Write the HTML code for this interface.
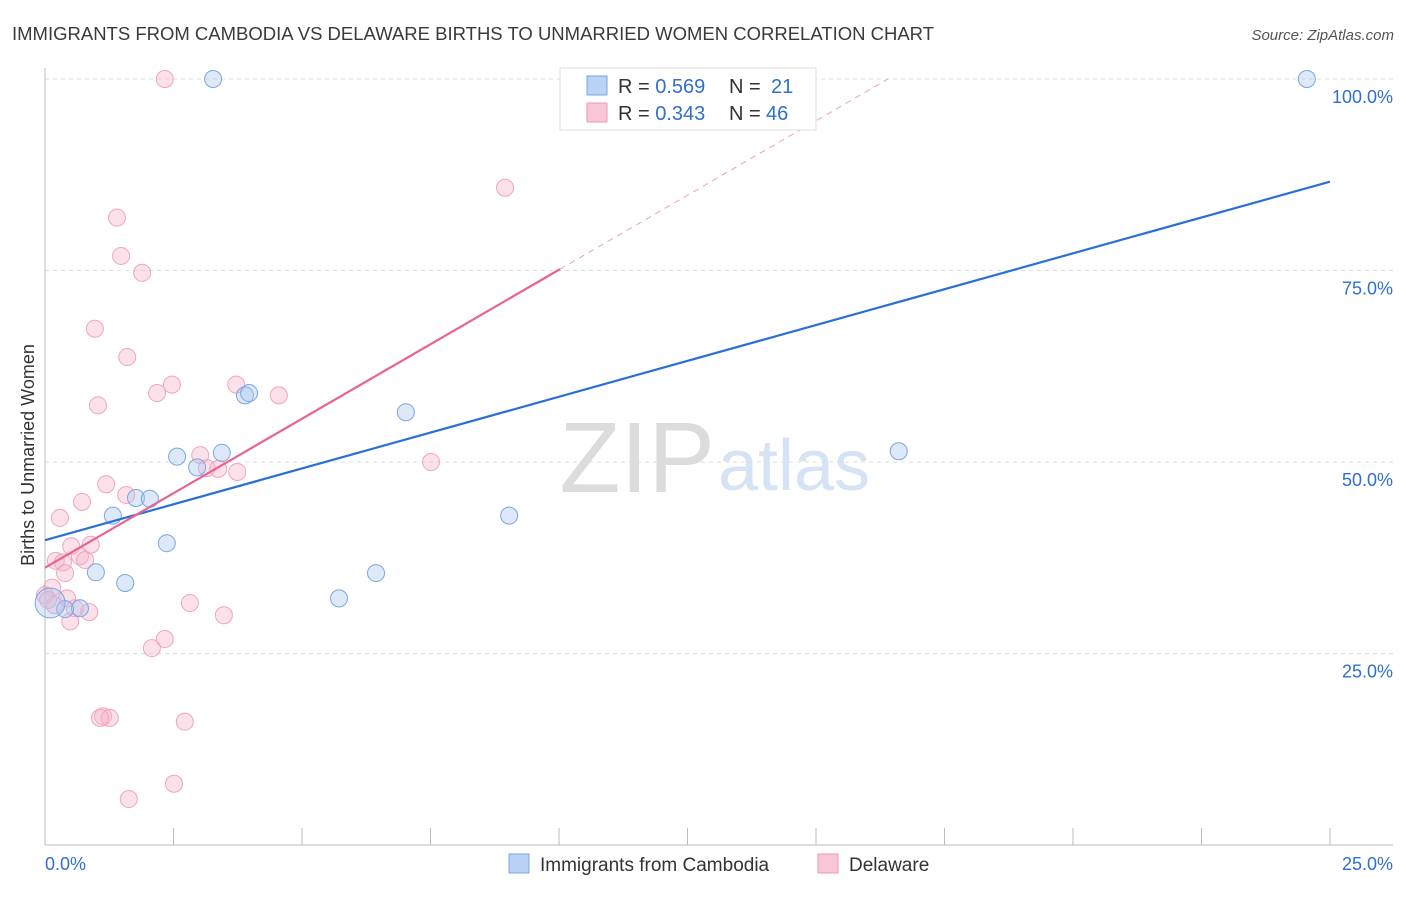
<!DOCTYPE html>
<html><head><meta charset="utf-8"><style>
body{margin:0;background:#fff;font-family:"Liberation Sans",sans-serif}
svg text{font-family:"Liberation Sans",sans-serif}
</style></head><body>
<svg id="c" width="1406" height="892">
<text x="12" y="40" font-size="18.5" fill="#3a3a3a">IMMIGRANTS FROM CAMBODIA VS DELAWARE BIRTHS TO UNMARRIED WOMEN CORRELATION CHART</text>
<text x="1394" y="40" font-size="15" fill="#555" font-style="italic" text-anchor="end">Source: ZipAtlas.com</text>
<text x="-455" y="34" font-size="18" fill="#333" text-anchor="middle" transform="rotate(-90)">Births to Unmarried Women</text>
<text x="715" y="492" font-size="100" fill="#dcdcdc" text-anchor="end" font-family="Liberation Serif">ZIP</text>
<text x="718" y="490" font-size="72" fill="#d5e3f5">atlas</text>
<g id="grid"></g><g id="pts"></g><g id="lines"></g>
<g>
<rect x="560" y="68" width="256" height="62" fill="#fff" stroke="#ddd"/>
<rect x="587" y="76" width="20" height="19" fill="#b9d3f5" stroke="#7aa6e0"/>
<rect x="587" y="103" width="20" height="19" fill="#f9c6d6" stroke="#ec9ab4"/>
<text x="618" y="93" font-size="20" fill="#333">R = <tspan fill="#2f6fd0">0.569</tspan><tspan x="729">N =</tspan><tspan x="771" fill="#2f6fd0">21</tspan></text>
<text x="618" y="120" font-size="20" fill="#333">R = <tspan fill="#2f6fd0">0.343</tspan><tspan x="729">N =</tspan><tspan x="766" fill="#2f6fd0">46</tspan></text>
</g>
<g>
<rect x="509" y="854" width="20" height="19" fill="#b9d3f5" stroke="#7aa6e0"/>
<text x="540" y="871" font-size="19" fill="#333">Immigrants from Cambodia</text>
<rect x="818" y="854" width="20" height="19" fill="#f9c6d6" stroke="#ec9ab4"/>
<text x="849" y="871" font-size="19" fill="#333">Delaware</text>
</g>
</svg>
<script>
const yTicks=[25,50,75,100];
const yTickLabels=["25.0%","50.0%","75.0%","100.0%"];
const xTickLabels=["0.0%","25.0%"];
const blueX=[3.27,24.55,3.89,3.97,7.02,3.44,2.57,2.96,1.77,2.04,1.32,9.03,2.37,0.99,6.44,1.56,5.72,0.68,0.39,16.61,0.10];
const blueY=[100,100,58.7,59.0,56.5,51.2,50.7,49.3,45.3,45.2,43.0,43.0,39.4,35.6,35.5,34.2,32.2,30.9,30.8,51.4,31.6];
const pinkX=[2.33,8.95,1.40,1.48,1.89,0.97,1.60,1.03,2.47,2.18,3.72,4.55,3.02,3.15,3.37,3.74,7.51,1.19,1.58,0.72,0.29,0.51,0.89,0.68,0.78,0.21,0.35,0.39,0.14,0.43,0.49,0.86,2.82,3.48,2.33,2.08,1.13,1.26,1.07,2.72,2.51,1.63,0,0.19,0.58,0.06];
const pinkY=[100,85.8,81.9,76.9,74.7,67.4,63.7,57.4,60.1,59.0,60.1,58.7,50.9,49.2,49.1,48.7,50.0,47.1,45.7,44.8,42.7,39.0,39.2,37.7,37.2,37.1,36.9,35.5,33.6,32.2,29.2,30.4,31.6,30.0,26.9,25.7,16.8,16.6,16.6,16.1,8.0,6.0,32.6,31.3,30.9,32.0];
const blueTrend=[39.8,86.6]; // y at x=0, x=25
const pinkTrend=[36.2,3.89]; // intercept, slope per 1%
const NS="http://www.w3.org/2000/svg";
const X=v=>45+v/25*1285, Y=v=>845-v/100*766;
function mk(t,a,p){const e=document.createElementNS(NS,t);for(const k in a)e.setAttribute(k,a[k]);p.appendChild(e);return e;}
const g=document.getElementById('grid');
yTicks.forEach((t,i)=>{
 const l=mk('line',{x1:45,x2:1393,y1:Y(t),y2:Y(t),stroke:'#ddd','stroke-dasharray':'4,4'},g);
 
 
 const tx=mk('text',{x:1393,y:Y(t)+24,'font-size':18,fill:'#2f6fd0','text-anchor':'end'},g);tx.textContent=yTickLabels[i];
 
 
});
mk('line',{x1:45,x2:45,y1:68,y2:845,stroke:'#bbb'},g);
mk('line',{x1:45,x2:1393,y1:845,y2:845,stroke:'#bbb'},g);
for(let i=1;i<=10;i++){mk('line',{x1:X(i*2.5),x2:X(i*2.5),y1:828,y2:845,stroke:'#bbb'},g);}
[[0,'start',45],[1,'end',1393]].forEach(([i,a,x])=>{const t=mk('text',{x:x,y:870,'font-size':18,fill:'#2f6fd0','text-anchor':a},g);t.textContent=xTickLabels[i];
 
 });
const p=document.getElementById('pts');
pinkX.forEach((x,i)=>{const c=mk('circle',{cx:X(x),cy:Y(pinkY[i]),r:8.5,fill:'rgba(247,180,202,0.4)',stroke:'#efa5bd','stroke-width':1},p);
 
 });
blueX.forEach((x,i)=>{const c=mk('circle',{cx:X(x),cy:Y(blueY[i]),r:i==20?15:8.5,fill:'rgba(170,200,240,0.4)',stroke:'#7aa6e0','stroke-width':1},p);
 
 });
const L=document.getElementById('lines');
const bl=mk('line',{x1:X(0),y1:Y(blueTrend[0]),x2:X(25),y2:Y(blueTrend[1]),stroke:'#2a6fd6','stroke-width':2.2},L);


const pe=10.02, pd=(100-pinkTrend[0])/pinkTrend[1];
const pl=mk('line',{x1:X(0),y1:Y(pinkTrend[0]),x2:X(pe),y2:Y(pinkTrend[0]+pinkTrend[1]*pe),stroke:'#e8648f','stroke-width':2.2},L);


const pdl=mk('line',{x1:X(pe),y1:Y(pinkTrend[0]+pinkTrend[1]*pe),x2:X(pd),y2:Y(100),stroke:'#eaa0b8','stroke-width':1,'stroke-dasharray':'6,5'},L);


</script>
</body></html>
